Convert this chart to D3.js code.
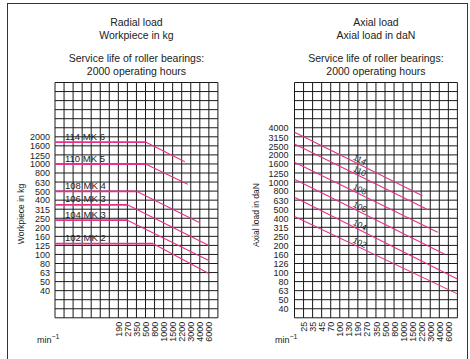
<!DOCTYPE html>
<html>
<head>
<meta charset="utf-8">
<script src="https://cdn.jsdelivr.net/npm/d3@7"></script>
<style>
  body { margin: 0; background: #fff; }
  svg { display: block; font-family: "Liberation Sans", Arial, sans-serif; }
  .tick text { fill: #222; }
</style>
</head>
<body>
<svg id="chart" width="470" height="359"></svg>
<script>
// speed axis (min^-1), same for both panels; the edges are only scale anchors
const speedTicks = [25, 35, 45, 70, 100, 130, 190, 270, 350, 500, 800, 1000, 1500, 2200, 3000, 4000, 6000];
const speedEdges = [18, 8500];
const radialSpeedTicks = speedTicks.slice(6);

const radialTicks = [2000, 1600, 1250, 1000, 800, 630, 500, 400, 315, 250, 200, 160, 125, 100, 80, 63, 50, 40];
const axialTicks = [4000, 3150, 2500, 2000, 1600, 1250, 1000, 800, 630, 500, 400, 315, 250, 200, 160, 126, 100, 80, 63, 50, 40];

// radial: workpiece in kg, flat up to the kink speed then falling
const radialNames = ["114 MK 6", "110 MK 5", "108 MK 4", "106 MK 3", "104 MK 3", "102 MK 2"];
const radialLoad = [1750, 1000, 500, 355, 240, 132];
const radialKink = [500, 500, 350, 270, 270, 750];
const radialEnd = [2450, 2700, 4000, 6000, 6000, 6000];
const radialEndLoad = [1060, 600, 225, 126, 86, 62];

// axial: load in daN, straight falling lines
const axialNames = ["114", "110", "108", "106", "104", "102"];
const axialStart = [3570, 2650, 1660, 1080, 684, 417];
const axialEnd = [2300, 2650, 3800, 5100, 8500, 8500];
const axialEndLoad = [710, 505, 280, 160, 85.5, 58.4];

const svg = d3.select("#chart");
const cell = 9.05, cols = 18, rows = 26, gridTop = 82.5;
const pink = "#e8308a", ink = "#1a1a1a";

svg.append("rect")
  .attr("x", 7.5).attr("y", 3.5).attr("width", 460).attr("height", 380)
  .attr("fill", "none").attr("stroke", "#333").attr("stroke-width", 1);

function panel(opt) {
  const g = svg.append("g");
  const x0 = opt.x0;
  const dom = [speedEdges[0], ...speedTicks, speedEdges[1]];
  const x = d3.scaleLog().domain(dom).range(dom.map((d, i) => x0 + i * cell));
  const y = d3.scaleLog().domain(opt.yDomain).range(opt.yRange);
  const cx = x0 + cols * cell / 2;

  // titles
  g.selectAll(".title").data(opt.title).join("text")
    .attr("x", cx).attr("y", (d, i) => [26, 38.5, 62, 74.5][i])
    .attr("text-anchor", "middle").attr("font-size", 10.5).attr("fill", "#222")
    .text(d => d);

  // grid
  const grid = g.append("g").attr("stroke", ink).attr("stroke-width", 1);
  grid.selectAll(".v").data(dom).join("line")
    .attr("x1", d => x(d)).attr("x2", d => x(d))
    .attr("y1", gridTop).attr("y2", gridTop + rows * cell);
  grid.selectAll(".h").data(d3.range(rows + 1)).join("line")
    .attr("x1", x0).attr("x2", x0 + cols * cell)
    .attr("y1", d => gridTop + d * cell).attr("y2", d => gridTop + d * cell);

  // y axis
  const ya = g.append("g").attr("transform", `translate(${x0},0)`)
    .call(d3.axisLeft(y).tickValues(opt.yTicks).tickSize(0).tickPadding(opt.yPad).tickFormat(d3.format("d")));
  ya.select(".domain").remove();
  ya.selectAll("text").attr("font-size", 9).style("font-family", "inherit");

  // x axis
  const xa = g.append("g").attr("transform", `translate(0,${gridTop + rows * cell})`)
    .call(d3.axisBottom(x).tickValues(opt.xTicks).tickSize(0).tickFormat(d3.format("d")));
  xa.select(".domain").remove();
  xa.selectAll("text")
    .attr("transform", "rotate(-90)").attr("x", -4).attr("y", 0).attr("dy", "0.34em")
    .style("text-anchor", "end").attr("font-size", 9).style("font-family", "inherit");

  // axis titles
  g.append("text")
    .attr("transform", `translate(${opt.titleX},${opt.titleY}) rotate(-90)`)
    .attr("text-anchor", "middle").attr("font-size", 8.5).attr("fill", "#222")
    .text(opt.yTitle);
  const m = g.append("text").attr("x", opt.minX).attr("y", 343)
    .attr("font-size", 9).attr("fill", "#222");
  m.append("tspan").text("min");
  m.append("tspan").attr("dy", -4).attr("font-size", 7).text("\u22121");

  return { g, x, y };
}

// left panel: radial load
const L = panel({
  x0: 55, yDomain: [40, 2000], yRange: [gridTop + 23 * cell, gridTop + 6 * cell],
  yTicks: radialTicks, xTicks: radialSpeedTicks, yPad: 5,
  title: ["Radial load", "Workpiece in kg", "Service life of roller bearings:", "2000 operating hours"],
  yTitle: "Workpiece in kg", titleX: 24, titleY: 214, minX: 37
});

const line = d3.line();
radialNames.forEach((name, i) => {
  const pts = [
    [L.x(speedEdges[0]), L.y(radialLoad[i])],
    [L.x(radialKink[i]), L.y(radialLoad[i])],
    [L.x(radialEnd[i]), L.y(radialEndLoad[i])]
  ];
  L.g.append("path").attr("d", line(pts.slice(0, 2)))
    .attr("fill", "none").attr("stroke", pink).attr("stroke-width", 1.8);
  L.g.append("path").attr("d", line(pts.slice(1)))
    .attr("fill", "none").attr("stroke", pink).attr("stroke-width", 1.1);
  L.g.append("text")
    .attr("x", pts[0][0] + 10).attr("y", pts[0][1] - 2.5)
    .attr("font-size", 9.5).attr("fill", "#222").text(name);
});

// right panel: axial load
const R = panel({
  x0: 294.5, yDomain: [40, 4000], yRange: [gridTop + 25 * cell, gridTop + 5 * cell],
  yTicks: axialTicks, xTicks: speedTicks, yPad: 6,
  title: ["Axial load", "Axial load in daN", "Service life of roller bearings:", "2000 operating hours"],
  yTitle: "Axial load in daN", titleX: 259, titleY: 215, minX: 275
});

axialNames.forEach((name, i) => {
  const p0 = [R.x(speedEdges[0]), R.y(axialStart[i])];
  const p1 = [R.x(axialEnd[i]), R.y(axialEndLoad[i])];
  R.g.append("path").attr("d", line([p0, p1]))
    .attr("fill", "none").attr("stroke", pink).attr("stroke-width", 1.1);
  const ang = Math.atan2(p1[1] - p0[1], p1[0] - p0[0]) * 180 / Math.PI;
  const lx = R.x(190), t = (lx - p0[0]) / (p1[0] - p0[0]);
  const ly = p0[1] + t * (p1[1] - p0[1]);
  R.g.append("text")
    .attr("transform", `translate(${lx},${ly}) rotate(${ang})`)
    .attr("y", -1.5).attr("text-anchor", "middle")
    .attr("font-size", 8.5).attr("fill", "#222").text(name);
});
</script>
</body>
</html>
